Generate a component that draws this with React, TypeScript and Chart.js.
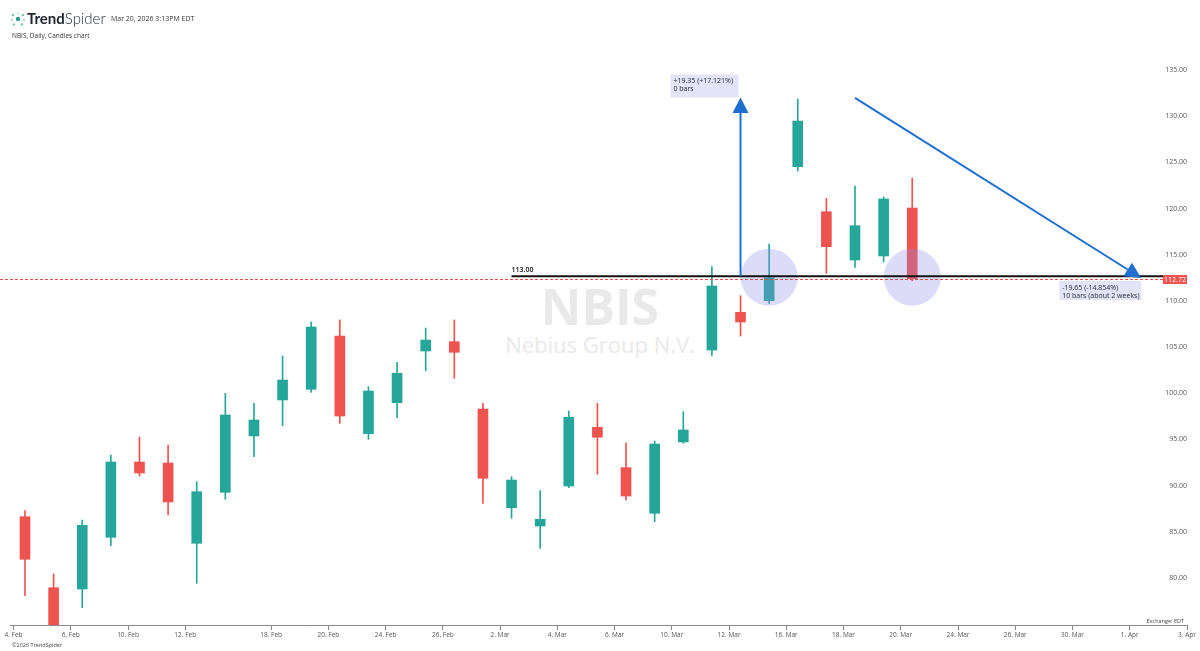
import React, { useEffect, useRef } from "react";
import { Chart, registerables } from "chart.js";

Chart.register(...registerables);

// ---- Data (trading days, NBIS daily candles) ----
const DATES = [
  "4 Feb", "5 Feb", "6 Feb", "9 Feb", "10 Feb", "11 Feb", "12 Feb", "13 Feb",
  "17 Feb", "18 Feb", "19 Feb", "20 Feb", "23 Feb", "24 Feb", "25 Feb", "26 Feb", "27 Feb",
  "2 Mar", "3 Mar", "4 Mar", "5 Mar", "6 Mar", "9 Mar", "10 Mar", "11 Mar", "12 Mar", "13 Mar",
  "16 Mar", "17 Mar", "18 Mar", "19 Mar", "20 Mar",
];
const OPEN = [
  86.96, 79.27, 79.13, 84.73, 92.88, 92.77, 84.08, 89.6,
  95.7, 99.6, 100.75, 106.52, 95.95, 99.3, 104.9, 105.91, 98.62,
  87.93, 85.95, 90.28, 96.64, 92.27, 87.33, 95.05, 105.0, 109.09, 110.35,
  124.86, 119.98, 114.75, 115.19, 120.38,
];
const HIGH = [
  87.61, 80.76, 86.6, 93.64, 95.59, 94.72, 90.75, 100.32,
  99.24, 104.36, 108.04, 108.26, 101.04, 103.68, 107.39, 108.26, 99.24,
  91.29, 89.78, 98.4, 99.24, 94.97, 95.16, 98.33, 114.03, 110.89, 116.49,
  132.18, 121.43, 122.77, 121.57, 123.63,
];
const LOW = [
  78.41, 73.5, 77.11, 83.82, 91.37, 87.14, 79.75, 88.84,
  93.46, 96.81, 100.43, 97.07, 95.34, 97.68, 102.77, 101.94, 88.41,
  86.79, 83.54, 90.1, 91.55, 88.77, 86.42, 94.91, 104.4, 106.52, 110.06,
  124.39, 113.31, 113.96, 114.54, 112.5,
];
const CLOSE = [
  82.35, 74.6, 86.03, 92.88, 91.69, 88.55, 89.67, 97.97,
  97.43, 101.76, 107.5, 97.86, 100.57, 102.49, 106.09, 104.76, 91.12,
  90.93, 86.68, 97.72, 95.56, 89.2, 94.83, 96.35, 111.94, 108.04, 112.84,
  129.8, 116.19, 118.47, 121.36, 112.72,
];

// x-axis tick labels and their trading-day index
const TICK_LABELS = [
  "4. Feb", "6. Feb", "10. Feb", "12. Feb", "18. Feb", "20. Feb", "24. Feb", "26. Feb",
  "2. Mar", "4. Mar", "6. Mar", "10. Mar", "12. Mar", "16. Mar", "18. Mar", "20. Mar",
  "24. Mar", "26. Mar", "30. Mar", "1. Apr", "3. Apr",
];
const TICK_INDEX = [0, 2, 4, 6, 9, 11, 13, 15, 17, 19, 21, 23, 25, 27, 29, 31, 33, 35, 37, 39, 41];

// Annotations
const LEVEL = 113.0;
const LEVEL_START = 17;
const LAST_PRICE = 112.72;
const CIRCLE_INDEX = [26, 31];
const UP_ARROW = { x: 25, from: 113.0, to: 132.35 };
const UP_LABEL = ["+19.35 (+17.121%)", "0 bars"];
const DOWN_ARROW = { x0: 29, y0: 132.3, x1: 39, y1: 112.8 };
const DOWN_LABEL = ["-19.65 (-14.854%)", "10 bars (about 2 weeks)"];

const UP_COLOR = "#26a69a";
const DOWN_COLOR = "#ef5350";
const ARROW_COLOR = "#1f6fd0";
const FONT = "'Open Sans', 'DejaVu Sans', sans-serif";

const annotationPlugin = {
  id: "tsAnnotations",
  afterDatasetsDraw(chart: any) {
    const { ctx, scales } = chart;
    const x = scales.x;
    const y = scales.y;
    ctx.save();

    // circles
    ctx.fillStyle = "rgba(140,140,235,0.30)";
    CIRCLE_INDEX.forEach((i) => {
      ctx.beginPath();
      ctx.arc(x.getPixelForValue(i), y.getPixelForValue(LEVEL) + 1, 28.5, 0, Math.PI * 2);
      ctx.fill();
    });

    const boxRight = 1163;
    // red dotted last-price line
    const yl = Math.round(y.getPixelForValue(LAST_PRICE)) + 0.5;
    ctx.strokeStyle = "#ef4f45";
    ctx.lineWidth = 1;
    ctx.setLineDash([3, 2]);
    ctx.beginPath();
    ctx.moveTo(0, yl);
    ctx.lineTo(boxRight, yl);
    ctx.stroke();
    ctx.setLineDash([]);

    // horizontal level line
    const yv = y.getPixelForValue(LEVEL);
    ctx.strokeStyle = "#111";
    ctx.lineWidth = 2;
    ctx.beginPath();
    ctx.moveTo(x.getPixelForValue(LEVEL_START), yv);
    ctx.lineTo(boxRight, yv);
    ctx.stroke();
    ctx.fillStyle = "#111";
    ctx.font = `600 7px ${FONT}`;
    ctx.textAlign = "left";
    ctx.textBaseline = "alphabetic";
    ctx.fillText(LEVEL.toFixed(2), x.getPixelForValue(LEVEL_START), yv - 4);

    // last price tag
    ctx.fillStyle = DOWN_COLOR;
    ctx.fillRect(boxRight, yl - 4.5, 24, 9);
    ctx.fillStyle = "#fff";
    ctx.font = `7px ${FONT}`;
    ctx.textAlign = "center";
    ctx.textBaseline = "middle";
    ctx.fillText(LAST_PRICE.toFixed(2), boxRight + 12, yl + 0.5);

    // up arrow
    const ux = x.getPixelForValue(UP_ARROW.x);
    const uy0 = y.getPixelForValue(UP_ARROW.from);
    const uy1 = y.getPixelForValue(UP_ARROW.to);
    ctx.strokeStyle = ARROW_COLOR;
    ctx.fillStyle = ARROW_COLOR;
    ctx.lineWidth = 2;
    ctx.beginPath();
    ctx.moveTo(ux, uy0);
    ctx.lineTo(ux, uy1 + 14);
    ctx.stroke();
    ctx.beginPath();
    ctx.moveTo(ux, uy1);
    ctx.lineTo(ux - 8, uy1 + 15.5);
    ctx.lineTo(ux + 8, uy1 + 15.5);
    ctx.closePath();
    ctx.fill();

    // down (diagonal) arrow
    const dx0 = x.getPixelForValue(DOWN_ARROW.x0);
    const dy0 = y.getPixelForValue(DOWN_ARROW.y0);
    const dx1 = x.getPixelForValue(DOWN_ARROW.x1);
    const dy1 = y.getPixelForValue(DOWN_ARROW.y1);
    const ang = Math.atan2(dy1 - dy0, dx1 - dx0);
    const hl = 16;
    const hw = 8;
    const bx = dx1 - hl * Math.cos(ang);
    const by = dy1 - hl * Math.sin(ang);
    ctx.beginPath();
    ctx.moveTo(dx0, dy0);
    ctx.lineTo(bx, by);
    ctx.stroke();
    ctx.beginPath();
    ctx.moveTo(dx1, dy1);
    ctx.lineTo(bx + hw * Math.sin(ang), by - hw * Math.cos(ang));
    ctx.lineTo(bx - hw * Math.sin(ang), by + hw * Math.cos(ang));
    ctx.closePath();
    ctx.fill();

    // label boxes
    ctx.font = `7px ${FONT}`;
    ctx.textAlign = "left";
    ctx.textBaseline = "middle";
    const drawBox = (left: number, top: number, w: number, h: number, lines: string[]) => {
      ctx.fillStyle = "#e4e4f8";
      ctx.fillRect(left, top, w, h);
      ctx.fillStyle = "#2a2a3a";
      lines.forEach((t, k) => ctx.fillText(t, left + 3, top + 6.5 + k * 8.5));
    };
    drawBox(ux - 70, uy1 - 23, 68, 23, UP_LABEL);
    drawBox(dx1 - 82, dy1 + 3, 82, 19, DOWN_LABEL);

    ctx.restore();
  },
};

export default function App() {
  const canvasRef = useRef<HTMLCanvasElement | null>(null);

  useEffect(() => {
    if (!canvasRef.current) return;
    const colors = DATES.map((_, i) => (CLOSE[i] >= OPEN[i] ? UP_COLOR : DOWN_COLOR));
    const wicks = DATES.map((_, i) => ({ x: i, y: [LOW[i], HIGH[i]] }));
    const bodies = DATES.map((_, i) => ({ x: i, y: [OPEN[i], CLOSE[i]] }));

    const chart = new Chart(canvasRef.current, {
      type: "bar",
      data: {
        datasets: [
          {
            label: "wick",
            data: wicks as any,
            backgroundColor: colors,
            barThickness: 1,
            grouped: false,
            order: 2,
          } as any,
          {
            label: "body",
            data: bodies as any,
            backgroundColor: colors,
            barThickness: 10,
            grouped: false,
            order: 1,
          } as any,
        ],
      },
      options: {
        animation: false,
        responsive: false,
        devicePixelRatio: 1,
        events: [],
        layout: { autoPadding: false, padding: { left: 10, right: 13, top: 40, bottom: 0 } },
        plugins: { legend: { display: false }, tooltip: { enabled: false } },
        scales: {
          x: {
            type: "linear",
            offset: false,
            min: -0.524,
            max: 40.6,
            afterFit: (s: any) => {
              s.height = 26;
            },
            afterBuildTicks: (s: any) => {
              s.ticks = TICK_INDEX.map((i) => ({ value: i - 0.4 }));
            },
            grid: { offset: false, drawOnChartArea: false, drawTicks: true, tickLength: 5, color: "#8a8a8a" },
            border: { display: true, color: "#8a8a8a" },
            ticks: {
              autoSkip: false,
              maxRotation: 0,
              minRotation: 0,
              padding: 1,
              color: "#555",
              font: { family: FONT, size: 6.5 },
              callback: (_v: any, idx: number) => TICK_LABELS[idx],
            },
          } as any,
          y: {
            type: "linear",
            position: "right",
            min: 75.234,
            max: 138.573,
            afterFit: (s: any) => {
              s.width = 0;
            },
            grid: { display: false, drawTicks: false },
            border: { display: false },
            ticks: {
              mirror: true,
              stepSize: 5,
              includeBounds: false,
              padding: 0,
              crossAlign: "near",
              labelOffset: -3,
              color: "#555",
              font: { family: FONT, size: 7 },
              callback: (v: any) => Number(v).toFixed(2),
            },
          } as any,
        },
      },
      plugins: [annotationPlugin],
    });
    return () => chart.destroy();
  }, []);

  return (
    <div
      style={{
        position: "fixed",
        left: 0,
        top: 0,
        width: 1200,
        height: 651,
        background: "#fff",
        overflow: "hidden",
        fontFamily: FONT,
      }}
    >
      {/* watermark */}
      <div
        style={{
          position: "absolute",
          left: 0,
          width: 1200,
          top: 276,
          textAlign: "center",
          color: "#e9e9e9",
          fontWeight: 700,
          fontSize: 50,
          lineHeight: "60px",
          zIndex: 0,
        }}
      >
        NBIS
      </div>
      <div
        style={{
          position: "absolute",
          left: 0,
          width: 1200,
          top: 330,
          textAlign: "center",
          color: "#e9e9e9",
          fontSize: 22,
          lineHeight: "28px",
          zIndex: 0,
        }}
      >
        Nebius Group N.V.
      </div>

      <canvas
        ref={canvasRef}
        width={1200}
        height={651}
        style={{ position: "absolute", left: 0, top: 0, width: 1200, height: 651, zIndex: 1 }}
      />

      {/* header */}
      <svg
        width="16"
        height="14"
        viewBox="0 0 16 14"
        style={{ position: "absolute", left: 10, top: 12, zIndex: 2 }}
      >
        <circle cx="8" cy="7" r="2.2" fill="#2a9d8f" />
        <circle cx="3" cy="3" r="1.3" fill="#7fc8a9" />
        <circle cx="13" cy="3" r="1.3" fill="#7fc8a9" />
        <circle cx="2" cy="8" r="1.1" fill="#9ad1b9" />
        <circle cx="14" cy="8" r="1.1" fill="#9ad1b9" />
        <circle cx="4" cy="12.5" r="1.2" fill="#7fc8a9" />
        <circle cx="12" cy="12.5" r="1.2" fill="#7fc8a9" />
        <circle cx="8" cy="1.5" r="1" fill="#b5dccb" />
      </svg>
      <div
        style={{
          position: "absolute",
          left: 27,
          top: 8,
          fontSize: 15,
          lineHeight: "20px",
          color: "#1d2733",
          zIndex: 2,
          whiteSpace: "nowrap",
          fontFamily: "Lato, 'Open Sans', sans-serif",
        }}
      >
        <span style={{ fontWeight: 700 }}>Trend</span>
        <span style={{ fontWeight: 300 }}>Spider</span>
      </div>
      <div
        style={{
          position: "absolute",
          left: 111,
          top: 14,
          fontSize: 7,
          lineHeight: "10px",
          color: "#333",
          zIndex: 2,
          whiteSpace: "nowrap",
        }}
      >
        Mar 20, 2026 3:13PM EDT
      </div>
      <div
        style={{
          position: "absolute",
          left: 12,
          top: 31,
          fontSize: 6.5,
          lineHeight: "10px",
          color: "#333",
          zIndex: 2,
          whiteSpace: "nowrap",
        }}
      >
        NBIS, Daily, Candles chart
      </div>
      <div
        style={{
          position: "absolute",
          right: 16,
          top: 617,
          fontSize: 5.5,
          lineHeight: "8px",
          color: "#444",
          zIndex: 2,
          whiteSpace: "nowrap",
        }}
      >
        Exchange: EDT
      </div>
      <div
        style={{
          position: "absolute",
          left: 12,
          top: 641,
          fontSize: 5.5,
          lineHeight: "8px",
          color: "#444",
          zIndex: 2,
          whiteSpace: "nowrap",
        }}
      >
        ©2026 TrendSpider
      </div>
    </div>
  );
}
